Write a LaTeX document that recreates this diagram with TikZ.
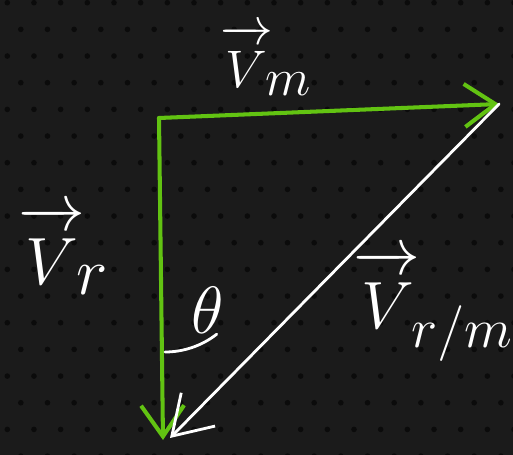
\documentclass[tikz,border=0pt]{standalone}
\usepackage{xcolor}
\usepackage{tikz}
\usetikzlibrary{arrows.meta}
\definecolor{boardbg}{HTML}{1B1B1B}
\definecolor{boarddot}{HTML}{0B0B0B}
\definecolor{vecgreen}{HTML}{62C312}

\newcommand{\hvec}[1]{$\overrightarrow{\rule{0pt}{0.85em}V}_{\!\textstyle #1}$}
\newcommand{\hvecsub}[1]{$\overrightarrow{\rule{0pt}{0.85em}V}_{\!#1}$}

\begin{document}
\begin{tikzpicture}[
  x=0.02cm,y=-0.02cm,
  vecline/.style={line width=2.3pt,line cap=round},
  greenvec/.style={vecline,vecgreen,-{Straight Barb[length=0.62cm,width=0.86cm]}},
  whitevec/.style={line width=1.6pt,line cap=round,white,-{Straight Barb[length=0.75cm,width=0.95cm]}},
  lbl/.style={text=white,inner sep=0pt,font=\Huge,scale=1.53}
]
\useasboundingbox (0,0) rectangle (513,455);
\fill[boardbg] (0,0) rectangle (513,455);
% dotted board
\begin{scope}
\clip (0,0) rectangle (513,455);
\foreach \r in {0,...,17}{
  \pgfmathsetmacro{\dx}{mod(\r,2)*13.5}
  \foreach \c in {0,...,19}
    \fill[boarddot] ({7.3+26.67*\c+\dx},{2.7+26.67*\r}) circle (1.6pt);
}
\end{scope}

\coordinate (corner) at (159,118);
\coordinate (tipright) at (499,104);
\coordinate (tipdown) at (163,440);
\coordinate (tiphyp) at (170,438);

\draw[greenvec] (corner) -- (tipright);
\draw[greenvec] (corner) -- (tipdown);
\draw[whitevec] (tipright) -- (tiphyp);

% angle mark
\draw[white,line width=1.6pt,line cap=round] (165,352) arc[start angle=90,end angle=52,radius=84];

\node[lbl,scale=0.79] (vm) at (266,60) {\hvec{m}};
\node[lbl] (vr) at (64,250) {\hvec{r}};
\node[lbl] (vrm) at (434,306) {\hvecsub{r/m}};
\node[lbl] (theta) at (208,310) {$\theta$};
\end{tikzpicture}
\end{document}
